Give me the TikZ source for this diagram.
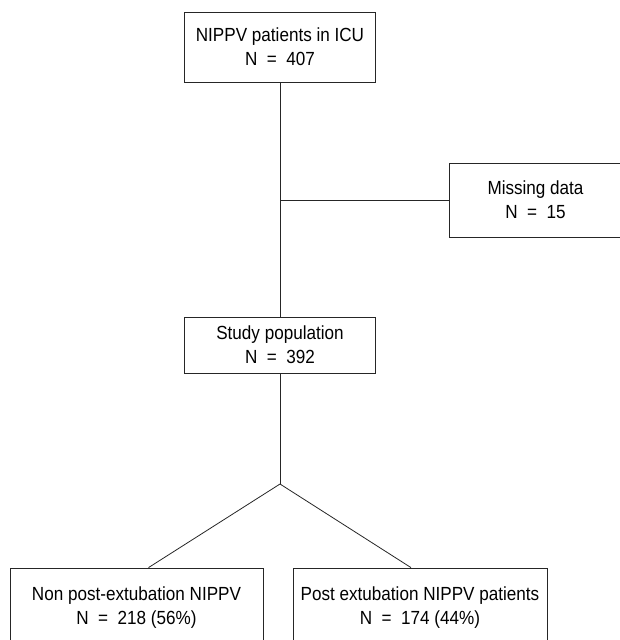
\documentclass[tikz,border=0pt]{standalone}
\usepackage{fontspec}
\setmainfont[FakeStretch=0.9]{Liberation Sans}
\usetikzlibrary{positioning}
\newcommand{\eqsign}{\enspace=\enspace}
\tikzset{
  flowbox/.style={draw=black!85, line width=0.8pt, align=center, inner sep=0pt,
    font=\fontsize{19}{24}\selectfont},
  link/.style={draw=black!85, line width=0.8pt}
}
\begin{document}
\begin{tikzpicture}[x=1pt, y=-1pt]
        \useasboundingbox (0,0) rectangle (620,640);
        \node[flowbox, minimum width=191pt, minimum height=70pt] (icu) at (280,47) {NIPPV patients in ICU\\N\eqsign 407};
        \node[flowbox, minimum width=173pt, minimum height=74pt] (missing) at (535.5,200) {Missing data\\N\eqsign 15};
        \node[flowbox, minimum width=191pt, minimum height=56pt] (study) at (280,345) {Study population\\N\eqsign 392};
        \node[flowbox, minimum width=253pt, minimum height=80pt] (nonpost) at (136.5,608) {Non post-extubation NIPPV\\N\eqsign 218 (56\%)};
        \node[flowbox, minimum width=254pt, minimum height=80pt] (post) at (420,608) {Post extubation NIPPV patients\\N\eqsign 174 (44\%)};
        \coordinate (branch) at (icu.south |- missing.west);
        \coordinate (split) at (280,484);
        \draw[link] (icu.south) -- (study.north);
        \draw[link] (branch) -- (missing.west);
        \draw[link] (study.south) -- (split);
        \draw[link] (split) -- ([xshift=12pt]nonpost.north);
        \draw[link] (split) -- ([xshift=-9pt]post.north);
    \end{tikzpicture}
\end{document}
